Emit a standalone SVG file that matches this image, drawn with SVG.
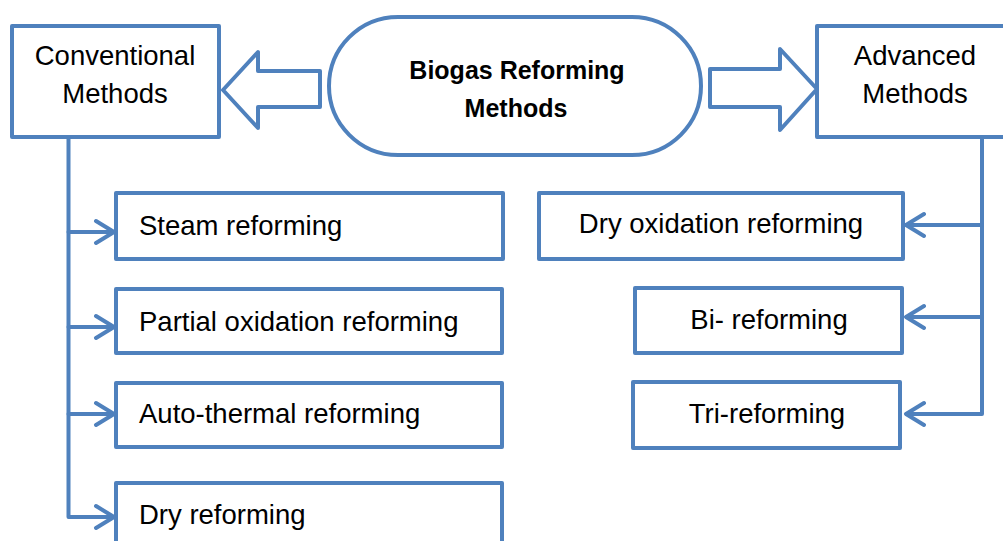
<svg xmlns="http://www.w3.org/2000/svg" width="1003" height="541" viewBox="0 0 1003 541">
<style>
.box{fill:#fff;stroke:#4F81BD;stroke-width:4;stroke-linejoin:round}
.line{fill:none;stroke:#4F81BD;stroke-width:4;stroke-linecap:round;stroke-linejoin:round}
.t{font-family:"Liberation Sans",Arial,sans-serif;font-size:27.5px;fill:#000}
.b{font-family:"Liberation Sans",Arial,sans-serif;font-size:25px;font-weight:bold;fill:#000}
</style>
<rect width="1003" height="541" fill="#fff"/>
<g id="center">
<rect class="box" x="329" y="17" width="372" height="138" rx="69" ry="69"/>
<text class="b" x="517" y="79" text-anchor="middle">Biogas Reforming</text>
<text class="b" x="516" y="117" text-anchor="middle">Methods</text>
</g>
<g id="conventional">
<rect class="box" x="12" y="26" width="207" height="111"/>
<text class="t" x="115" y="65" text-anchor="middle">Conventional</text>
<text class="t" x="115" y="103" text-anchor="middle">Methods</text>
</g>
<g id="advanced">
<rect class="box" x="817" y="26" width="200" height="111"/>
<text class="t" x="915" y="65" text-anchor="middle">Advanced</text>
<text class="t" x="915" y="103" text-anchor="middle">Methods</text>
</g>
<g id="arrow-left">
<polygon class="box" points="223,90 258,52 258,71 320,71 320,107 258,107 258,128"/>
</g>
<g id="arrow-right">
<polygon class="box" points="710,69 780,69 780,49 817,89 780,130 780,107 710,107"/>
</g>
<g id="steam">
<rect class="box" x="116" y="193" width="387" height="66"/>
<text class="t" x="139" y="235">Steam reforming</text>
</g>
<g id="partial">
<rect class="box" x="116" y="289" width="386" height="64"/>
<text class="t" x="139" y="331">Partial oxidation reforming</text>
</g>
<g id="auto">
<rect class="box" x="116" y="383" width="386" height="64"/>
<text class="t" x="139" y="423">Auto-thermal reforming</text>
</g>
<g id="dry">
<rect class="box" x="116" y="483" width="386" height="80"/>
<text class="t" x="139" y="524">Dry reforming</text>
</g>
<g id="dryox">
<rect class="box" x="539" y="193" width="364" height="66"/>
<text class="t" x="721" y="233" text-anchor="middle">Dry oxidation reforming</text>
</g>
<g id="bi">
<rect class="box" x="635" y="288" width="267" height="65"/>
<text class="t" x="769" y="329" text-anchor="middle">Bi- reforming</text>
</g>
<g id="tri">
<rect class="box" x="633" y="382" width="267" height="66"/>
<text class="t" x="767" y="423" text-anchor="middle">Tri-reforming</text>
</g>
<g id="connectors">
<path class="line" d="M68.5,138 V517 H113"/>
<path class="line" d="M68.5,232 H113 M68.5,327 H113 M68.5,414 H113"/>
<path class="line" d="M96,221 L114,232 L96,243 M96,316 L114,327 L96,338 M96,403 L114,414 L96,425 M96,506 L114,517 L96,528"/>
<path class="line" d="M982,138 V414 H907"/>
<path class="line" d="M982,225 H907 M982,317 H907"/>
<path class="line" d="M924,214 L906,225 L924,236 M924,306 L906,317 L924,328 M924,403 L906,414 L924,425"/>
</g>
</svg>
